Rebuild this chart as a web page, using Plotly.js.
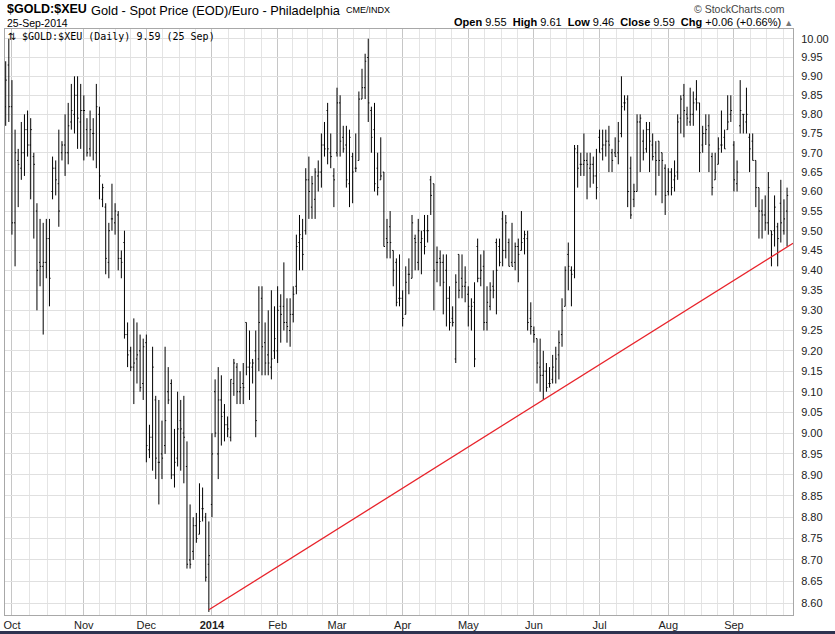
<!DOCTYPE html>
<html><head><meta charset="utf-8">
<script src="https://cdn.plot.ly/plotly-3.0.1.min.js"></script>
<style>
html,body{margin:0;padding:0;background:#fff;}
#chart{width:835px;height:634px;position:absolute;left:0;top:0;}
#strip{position:absolute;left:0;top:631px;width:835px;height:3px;background:#2e3350;}
</style>
</head><body><div id="chart"></div><div id="strip"></div>
<script>
// Trading calendar: 27-Sep-2013 .. 25-Sep-2014, weekdays without US market holidays
const firstDay = '2013-09-27';
const lastDay = '2014-09-25';
const holidays = ['2013-11-28','2013-12-25','2014-01-01','2014-01-20','2014-02-17','2014-04-18','2014-05-26','2014-07-04','2014-09-01'];

// Daily OHLC values (Euro per unit of $GOLD:$XEU)
const openVals = [
  9.82,9.93,
  9.82,9.52,9.68,9.66,9.70,9.76,9.72,9.69,9.55,9.42,9.41,9.42,9.48,9.60,9.66,9.62,9.70,9.72,9.70,9.78,9.80,9.85,9.78,
  9.81,9.76,9.71,9.75,9.70,9.80,9.58,9.56,9.42,9.53,9.52,9.54,9.43,9.47,9.24,9.20,9.16,9.18,9.20,9.12,
  9.22,8.96,8.99,9.08,8.93,8.95,8.97,9.10,9.12,8.90,8.94,9.03,9.00,8.92,8.70,8.72,8.78,8.76,8.82,8.80,8.69,
  8.83,9.10,8.95,9.08,9.05,9.02,8.99,9.12,9.16,9.10,9.12,9.27,9.16,9.16,9.20,9.18,9.33,9.22,9.19,9.16,9.20,
  9.20,9.31,9.31,9.27,9.25,9.29,9.36,9.47,9.48,9.50,9.63,9.56,9.58,9.64,9.65,9.72,9.81,9.70,9.64,
  9.70,9.83,9.74,9.72,9.62,9.69,9.66,9.68,9.84,9.87,9.95,9.81,9.76,9.66,9.63,9.65,9.48,9.51,9.45,9.42,9.33,
  9.33,9.29,9.39,9.38,9.48,9.42,9.47,9.50,9.50,9.63,9.62,9.42,9.43,9.42,9.40,9.33,9.28,9.18,9.44,9.38,9.36,
  9.34,9.30,9.32,9.46,9.38,9.41,9.27,9.31,9.36,9.47,9.46,9.53,9.45,9.47,9.42,9.42,9.46,9.45,9.48,9.48,9.28,
  9.25,9.23,9.16,9.14,9.15,9.12,9.13,9.15,9.19,9.24,9.31,9.44,9.40,9.40,9.70,9.67,9.67,9.68,9.66,9.67,9.64,
  9.74,9.71,9.72,9.73,9.70,9.70,9.70,9.75,9.83,9.84,9.66,9.58,9.60,9.78,9.73,9.71,9.76,9.72,9.70,9.73,9.70,9.66,
  9.60,9.65,9.63,9.65,9.79,9.85,9.80,9.78,9.80,9.84,9.83,9.72,9.75,9.77,9.69,9.63,9.67,9.72,9.74,9.76,9.80,
  9.72,9.62,9.77,9.80,9.78,9.74,9.73,9.68,9.61,9.55,9.54,9.52,9.50,9.50,9.51,9.57,9.50,9.55
];
const highVals = [
  9.94,10.00,
  9.89,9.76,9.71,9.78,9.80,9.81,9.79,9.70,9.57,9.53,9.52,9.53,9.53,9.69,9.68,9.76,9.73,9.80,9.83,9.88,9.90,9.90,9.88,
  9.85,9.79,9.81,9.79,9.88,9.82,9.62,9.57,9.52,9.62,9.57,9.55,9.45,9.50,9.27,9.21,9.28,9.27,9.24,9.23,
  9.24,9.02,9.21,9.09,9.08,9.03,9.21,9.16,9.13,9.01,9.10,9.08,9.09,8.98,8.83,8.80,8.81,8.88,8.87,8.81,8.79,
  9.00,9.13,9.16,9.14,9.07,9.04,9.13,9.18,9.17,9.15,9.17,9.27,9.25,9.18,9.25,9.36,9.36,9.27,9.30,9.35,9.31,
  9.36,9.34,9.42,9.33,9.33,9.36,9.49,9.54,9.53,9.66,9.69,9.64,9.66,9.68,9.75,9.78,9.83,9.75,9.66,
  9.87,9.85,9.77,9.77,9.76,9.70,9.75,9.86,9.92,9.96,10.00,9.82,9.83,9.70,9.74,9.65,9.53,9.55,9.45,9.43,9.44,
  9.35,9.41,9.43,9.54,9.49,9.53,9.50,9.54,9.54,9.64,9.62,9.46,9.45,9.44,9.44,9.36,9.31,9.39,9.44,9.44,9.41,
  9.36,9.33,9.37,9.48,9.44,9.45,9.36,9.37,9.40,9.48,9.48,9.55,9.54,9.48,9.52,9.47,9.48,9.55,9.50,9.50,9.32,
  9.26,9.23,9.23,9.20,9.17,9.16,9.19,9.21,9.25,9.33,9.41,9.47,9.41,9.72,9.72,9.70,9.75,9.70,9.70,9.69,9.71,
  9.76,9.76,9.76,9.77,9.71,9.74,9.78,9.90,9.85,9.85,9.69,9.62,9.80,9.80,9.76,9.78,9.78,9.75,9.73,9.73,9.70,9.67,
  9.66,9.66,9.68,9.80,9.85,9.88,9.82,9.87,9.86,9.89,9.83,9.77,9.80,9.80,9.70,9.70,9.74,9.81,9.76,9.85,9.85,
  9.73,9.68,9.89,9.80,9.87,9.75,9.75,9.68,9.61,9.58,9.59,9.65,9.50,9.59,9.52,9.63,9.58,9.61
];
const lowVals = [
  9.77,9.78,
  9.49,9.41,9.56,9.63,9.64,9.69,9.58,9.48,9.30,9.36,9.24,9.38,9.31,9.58,9.59,9.51,9.68,9.64,9.67,9.76,9.75,9.71,9.71,
  9.68,9.69,9.69,9.68,9.66,9.58,9.56,9.39,9.38,9.50,9.49,9.40,9.38,9.23,9.16,9.15,9.07,9.12,9.10,9.08,
  8.93,8.94,8.91,8.89,8.83,8.89,8.95,9.07,8.89,8.87,8.92,8.91,8.88,8.68,8.68,8.70,8.74,8.76,8.79,8.65,8.58,
  8.80,8.99,8.89,8.97,8.98,8.99,8.98,9.09,9.07,9.07,9.07,9.14,9.08,9.12,8.99,9.15,9.14,9.14,9.14,9.13,9.18,
  9.17,9.22,9.25,9.22,9.21,9.27,9.34,9.40,9.40,9.49,9.53,9.53,9.53,9.60,9.61,9.69,9.67,9.66,9.56,
  9.69,9.69,9.70,9.61,9.56,9.57,9.65,9.68,9.84,9.84,9.78,9.70,9.60,9.59,9.63,9.46,9.43,9.43,9.36,9.31,9.31,
  9.26,9.29,9.34,9.38,9.40,9.40,9.39,9.44,9.47,9.54,9.30,9.37,9.36,9.29,9.26,9.25,9.26,9.17,9.33,9.33,9.32,
  9.26,9.25,9.16,9.37,9.36,9.25,9.25,9.30,9.33,9.29,9.41,9.41,9.43,9.41,9.41,9.40,9.37,9.45,9.44,9.25,9.24,
  9.22,9.12,9.10,9.08,9.10,9.11,9.12,9.12,9.13,9.21,9.31,9.35,9.31,9.38,9.61,9.64,9.64,9.58,9.61,9.62,9.58,
  9.70,9.68,9.69,9.65,9.65,9.69,9.67,9.74,9.81,9.56,9.53,9.56,9.60,9.65,9.68,9.70,9.65,9.68,9.59,9.64,9.57,9.54,
  9.59,9.59,9.60,9.63,9.75,9.74,9.77,9.77,9.77,9.81,9.65,9.70,9.72,9.65,9.59,9.63,9.67,9.70,9.71,9.76,9.78,
  9.60,9.60,9.75,9.75,9.75,9.65,9.68,9.56,9.48,9.48,9.50,9.49,9.41,9.46,9.41,9.47,9.49,9.46
];
const closeVals = [
  9.89,9.82,
  9.52,9.70,9.67,9.70,9.76,9.72,9.76,9.67,9.40,9.41,9.42,9.48,9.38,9.66,9.63,9.55,9.72,9.70,9.77,9.81,9.85,9.79,9.81,
  9.81,9.70,9.76,9.75,9.82,9.64,9.61,9.43,9.50,9.53,9.55,9.43,9.42,9.24,9.19,9.16,9.17,9.19,9.11,9.21,
  8.97,8.99,9.16,8.94,8.93,8.94,9.03,9.08,8.90,8.93,9.01,9.01,8.99,8.69,8.69,8.78,8.75,8.79,8.82,8.66,8.71,
  8.95,9.00,9.08,9.04,9.02,9.01,9.13,9.17,9.10,9.11,9.11,9.16,9.17,9.17,9.03,9.27,9.21,9.17,9.17,9.18,9.23,
  9.30,9.29,9.27,9.26,9.29,9.34,9.46,9.49,9.44,9.63,9.60,9.62,9.65,9.65,9.72,9.71,9.71,9.69,9.63,
  9.83,9.73,9.71,9.63,9.74,9.65,9.66,9.84,9.87,9.94,9.83,9.74,9.62,9.61,9.64,9.46,9.47,9.47,9.40,9.32,9.33,
  9.28,9.37,9.39,9.52,9.47,9.50,9.48,9.46,9.50,9.59,9.40,9.42,9.42,9.37,9.33,9.27,9.27,9.37,9.35,9.36,9.37,
  9.31,9.31,9.18,9.38,9.40,9.27,9.32,9.35,9.35,9.40,9.42,9.45,9.52,9.41,9.41,9.46,9.44,9.47,9.49,9.27,9.26,
  9.24,9.17,9.14,9.15,9.11,9.12,9.16,9.18,9.22,9.30,9.40,9.41,9.39,9.71,9.66,9.67,9.68,9.67,9.67,9.64,9.61,
  9.70,9.72,9.73,9.72,9.68,9.69,9.73,9.82,9.83,9.60,9.54,9.60,9.78,9.79,9.70,9.76,9.73,9.69,9.68,9.68,9.68,9.59,
  9.65,9.61,9.64,9.78,9.84,9.81,9.79,9.80,9.83,9.83,9.70,9.75,9.76,9.72,9.61,9.65,9.71,9.72,9.71,9.78,9.81,
  9.63,9.65,9.81,9.80,9.80,9.71,9.68,9.61,9.55,9.54,9.52,9.61,9.49,9.56,9.48,9.52,9.53,9.59
];

// Month tick labels (placed on the first trading day of each month)
const monthLabels = ['Oct','Nov','Dec','<b>2014</b>','Feb','Mar','Apr','May','Jun','Jul','Aug','Sep'];
// Price axis ticks
const yTicks = [8.60,8.65,8.70,8.75,8.80,8.85,8.90,8.95,9.00,9.05,9.10,9.15,9.20,9.25,9.30,9.35,9.40,9.45,9.50,9.55,9.60,9.65,9.70,9.75,9.80,9.85,9.90,9.95,10.00];
// Red support trendline (from the 31-Dec-2013 low to the right edge)
const trendDates = ['2013-12-31','2014-09-26 21:30'];
const trendValues = [8.585, 9.468];

// ---- build calendar ----
const dates = [];
{
  const s = new Date(firstDay + 'T00:00:00Z').getTime();
  const e = new Date(lastDay + 'T00:00:00Z').getTime();
  for (let t = s; t <= e; t += 864e5) {
    const d = new Date(t), wd = d.getUTCDay(), str = d.toISOString().slice(0,10);
    if (wd === 0 || wd === 6 || holidays.indexOf(str) >= 0) continue;
    dates.push(str);
  }
}

// month starts + quarter-month minor gridlines
const monthStartIdx = [];
for (let i = 1; i < dates.length; i++) {
  if (dates[i].slice(0,7) !== dates[i-1].slice(0,7)) monthStartIdx.push(i);
}
const monthStarts = monthStartIdx.map(i => dates[i]);
const dayMs = dates.map(s => new Date(s + 'T00:00:00Z').getTime());
function idxToDate(f) {
  const i = Math.floor(f), frac = f - i;
  return new Date(dayMs[i] + frac * 864e5).toISOString().slice(0,19).replace('T',' ');
}
const minorVals = [];
for (let m = 0; m < monthStartIdx.length; m++) {
  const s = monthStartIdx[m];
  const n = (m + 1 < monthStartIdx.length) ? monthStartIdx[m+1] - s : 21;
  for (let k = 1; k < 4; k++) {
    const f = s + n * k / 4;
    if (f < dates.length) minorVals.push(idxToDate(f));
  }
}

const FONT = 'Liberation Sans, Arial, sans-serif';
const ohlc = {
  type: 'ohlc', x: dates, open: openVals, high: highVals, low: lowVals, close: closeVals,
  increasing: {line: {color: '#000', width: 1}},
  decreasing: {line: {color: '#000', width: 1}},
  tickwidth: 0.35, hoverinfo: 'skip', showlegend: false
};
const trend = {
  type: 'scatter', mode: 'lines', x: trendDates, y: trendValues,
  line: {color: '#e8222a', width: 1.3}, hoverinfo: 'skip', showlegend: false
};

// paper coordinate helpers for header text (plot area 5..793 x 29..615 px)
const PX = px => (px - 5) / 788;
const PY = py => (615 - py) / 586;

const layout = {
  width: 835, height: 634,
  margin: {l: 5, r: 42, t: 29, b: 19, pad: 0},
  paper_bgcolor: '#fff', plot_bgcolor: '#fff',
  font: {family: FONT, size: 11, color: '#222'},
  showlegend: false,
  xaxis: {
    type: 'date',
    rangebreaks: [{bounds: ['sat','mon']}, {values: holidays}],
    range: ['2013-09-26 18:40', '2014-09-26 21:30'],
    rangeslider: {visible: false},
    tickmode: 'array', tickvals: monthStarts, ticktext: monthLabels,
    ticks: '', showgrid: true, gridcolor: '#c6c6c6', gridwidth: 1,
    minor: {tickmode: 'array', tickvals: minorVals, showgrid: true, gridcolor: '#e4e4e4', gridwidth: 1, ticks: ''},
    showline: true, mirror: true, linecolor: '#a8a8a8', linewidth: 1,
    zeroline: false, fixedrange: true,
    tickfont: {family: FONT, size: 11, color: '#222'}
  },
  yaxis: {
    type: 'log', side: 'right',
    range: [Math.log10(8.573), Math.log10(10.026)],
    tickmode: 'array', tickvals: yTicks, ticktext: yTicks.map(v => v.toFixed(2)),
    ticks: 'outside', ticklen: 5, tickcolor: 'rgba(0,0,0,0)',
    showgrid: true, gridcolor: '#e0e0e0', gridwidth: 1,
    showline: true, mirror: true, linecolor: '#a8a8a8', linewidth: 1,
    zeroline: false, fixedrange: true,
    tickfont: {family: FONT, size: 11, color: '#222'}
  },
  annotations: [
    {xref:'paper', yref:'paper', x: PX(5), y: PY(9), xanchor:'left', yanchor:'middle', showarrow:false,
     text:'<b>$GOLD:$XEU</b>', font:{family: FONT, size: 12.5, color:'#000'}},
    {xref:'paper', yref:'paper', x: PX(89), y: PY(10), xanchor:'left', yanchor:'middle', showarrow:false,
     text:'Gold - Spot Price (EOD)/Euro - Philadelphia', font:{family: FONT, size: 12.8, color:'#000'}},
    {xref:'paper', yref:'paper', x: PX(344), y: PY(10.5), xanchor:'left', yanchor:'middle', showarrow:false,
     text:'CME/INDX', font:{family: FONT, size: 9, color:'#000'}},
    {xref:'paper', yref:'paper', x: PX(5), y: PY(23), xanchor:'left', yanchor:'middle', showarrow:false,
     text:'25-Sep-2014', font:{family: FONT, size: 10.5, color:'#000'}},
    {xref:'paper', yref:'paper', x: PX(787), y: PY(9), xanchor:'right', yanchor:'middle', showarrow:false,
     text:'© StockCharts.com', font:{family: FONT, size: 10.5, color:'#444'}},
    {xref:'paper', yref:'paper', x: PX(795), y: PY(22), xanchor:'right', yanchor:'middle', showarrow:false,
     text:'<b>Open</b> 9.55  <b>High</b> 9.61  <b>Low</b> 9.46  <b>Close</b> 9.59  <b>Chg</b> +0.06 (+0.66%) <span style="color:#777;font-size:9px">▲</span>',
     font:{family: FONT, size: 11, color:'#000'}},
    {xref:'paper', yref:'paper', x: PX(6), y: PY(37), xanchor:'left', yanchor:'middle', showarrow:false,
     text:'⇅', font:{family: 'DejaVu Sans', size: 10, color:'#000'}},
    {xref:'paper', yref:'paper', x: PX(20), y: PY(37), xanchor:'left', yanchor:'middle', showarrow:false,
     text:'$GOLD:$XEU (Daily) 9.59 (25 Sep)', font:{family: 'DejaVu Sans Mono, monospace', size: 10, color:'#000'}}
  ]
};

Plotly.newPlot('chart', [ohlc, trend], layout, {staticPlot: true, displayModeBar: false});
</script></body></html>
